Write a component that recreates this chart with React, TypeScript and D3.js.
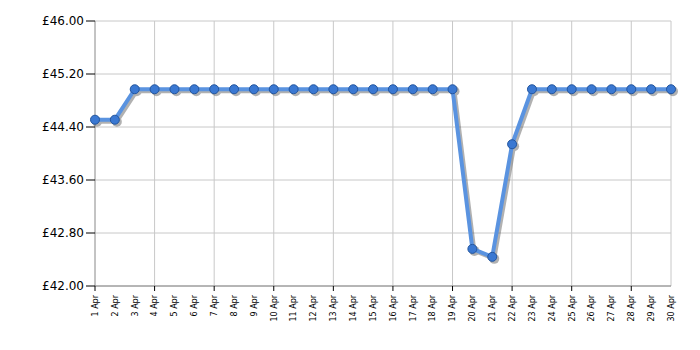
import React from "react";
import * as d3 from "d3";

const days: number[] = Array.from({ length: 30 }, (_, i) => i + 1);
const dayLabels: string[] = days.map((d) => `${d} Apr`);
const prices: number[] = [
  44.51, 44.51, 44.97, 44.97, 44.97, 44.97, 44.97, 44.97, 44.97, 44.97,
  44.97, 44.97, 44.97, 44.97, 44.97, 44.97, 44.97, 44.97, 44.97, 42.56,
  42.44, 44.14, 44.97, 44.97, 44.97, 44.97, 44.97, 44.97, 44.97, 44.97,
];
const yTicks: number[] = [42.0, 42.8, 43.6, 44.4, 45.2, 46.0];
const xTickDays: number[] = [1, 4, 7, 10, 13, 16, 19, 22, 25, 28];

export default function App() {
  const W = 700, H = 350;
  const left = 95, right = 671, top = 21, bottom = 286;
  const x = d3.scaleLinear().domain([1, 30]).range([left, right]);
  const y = d3.scaleLinear().domain([42, 46]).range([bottom, top]);
  const line = d3.line<number>().x((_, i) => x(days[i])).y((v) => y(v));
  const pathD = line(prices) || "";
  const font = "DejaVu Sans, Verdana, sans-serif";

  return (
    <svg width={W} height={H} style={{ position: "absolute", left: 0, top: 0 }}>
      <rect width={W} height={H} fill="#fff" />
      {yTicks.map((t) => (
        <line key={"hy" + t} x1={left} x2={right} y1={y(t)} y2={y(t)} stroke="#c8c8c8" strokeWidth={1} />
      ))}
      {xTickDays.filter((d) => d !== 1).map((d) => (
        <line key={"vx" + d} x1={x(d)} x2={x(d)} y1={top} y2={bottom} stroke="#c8c8c8" strokeWidth={1} />
      ))}
      <line x1={right} x2={right} y1={top} y2={bottom} stroke="#c8c8c8" strokeWidth={1} />
      <line x1={left} x2={left} y1={top} y2={bottom} stroke="#888" strokeWidth={1} />
      <line x1={left} x2={right} y1={bottom} y2={bottom} stroke="#888" strokeWidth={1} />
      {yTicks.map((t) => (
        <g key={"yt" + t}>
          <line x1={left - 9} x2={left} y1={y(t)} y2={y(t)} stroke="#000" strokeWidth={1} />
          <text x={left - 11} y={y(t)} dy="0.36em" textAnchor="end" fontFamily={font} fontSize={12} fill="#000">
            {"£" + t.toFixed(2)}
          </text>
        </g>
      ))}
      {xTickDays.map((d) => (
        <line key={"xt" + d} x1={x(d)} x2={x(d)} y1={bottom} y2={bottom + 5} stroke="#000" strokeWidth={1} />
      ))}
      {days.map((d, i) => (
        <text
          key={"xl" + d}
          transform={`translate(${x(d)},${bottom + 9}) rotate(-90)`}
          textAnchor="end"
          dy="0.35em"
          fontFamily={font}
          fontSize={8}
          fill="#000"
        >
          {dayLabels[i]}
        </text>
      ))}
      <g transform="translate(2,2)" opacity={0.45}>
        <path d={pathD} fill="none" stroke="#555" strokeWidth={4} strokeLinejoin="round" />
        {prices.map((v, i) => (
          <circle key={"s" + i} cx={x(days[i])} cy={y(v)} r={5} fill="#555" />
        ))}
      </g>
      <path d={pathD} fill="none" stroke="#5a93e0" strokeWidth={4} strokeLinejoin="round" />
      {prices.map((v, i) => (
        <circle key={"p" + i} cx={x(days[i])} cy={y(v)} r={4.5} fill="#3a78d2" stroke="#24569e" strokeWidth={1} />
      ))}
    </svg>
  );
}
